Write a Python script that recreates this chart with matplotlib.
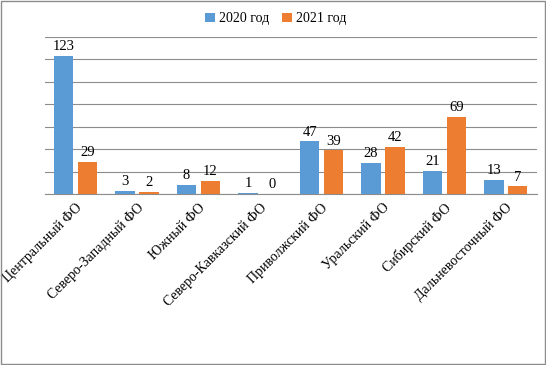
import numpy as np
import matplotlib.pyplot as plt
from matplotlib.patches import Rectangle

categories = ["Центральный ФО", "Северо-Западный ФО", "Южный ФО",
              "Северо-Кавказский ФО", "Приволжский ФО", "Уральский ФО",
              "Сибирский ФО", "Дальневосточный ФО"]
values_2020 = [123, 3, 8, 1, 47, 28, 21, 13]
values_2021 = [29, 2, 12, 0, 39, 42, 69, 7]
series_labels = ["2020 год", "2021 год"]

plt.rcParams['font.family'] = ['Liberation Serif', 'DejaVu Serif']

fig = plt.figure(figsize=(5.46, 3.65), dpi=100)
ax = fig.add_axes([0.082, 0.468, 0.901, 0.431])

x = np.arange(len(categories))
w = 0.31
off = 0.195
b1 = ax.bar(x - off, values_2020, w, color="#5B9BD5", label=series_labels[0], zorder=3)
b2 = ax.bar(x + off, values_2021, w, color="#ED7D31", label=series_labels[1], zorder=3)
ax.bar_label(b1, padding=2, fontsize=10.5)
ax.bar_label(b2, padding=2, fontsize=10.5)

ax.set_xlim(-0.5, len(categories) - 0.5)
ax.set_ylim(0, 140)
ax.set_yticks(np.arange(0, 141, 20))
ax.set_yticklabels([])
ax.grid(axis="y", color="#8c8c8c", linewidth=0.8, zorder=0)
ax.tick_params(axis="both", length=0)
for s in ["left", "right", "top"]:
    ax.spines[s].set_visible(False)
ax.spines["bottom"].set_color("#8c8c8c")

ax.set_xticks(x)
ax.set_xticklabels(categories, rotation=45, ha="right", rotation_mode="anchor", fontsize=10)
ax.tick_params(axis="x", pad=5)

fig.legend(loc="center", bbox_to_anchor=(0.505, 0.948), ncol=2, frameon=False,
           fontsize=10, handlelength=0.7, handleheight=0.7, handletextpad=0.3,
           columnspacing=0.9)

fig.patches.append(Rectangle((0.002, 0.002), 0.996, 0.995, transform=fig.transFigure,
                             fill=False, edgecolor="#8c8c8c", linewidth=1))

fig.savefig("out.png", dpi=100)
